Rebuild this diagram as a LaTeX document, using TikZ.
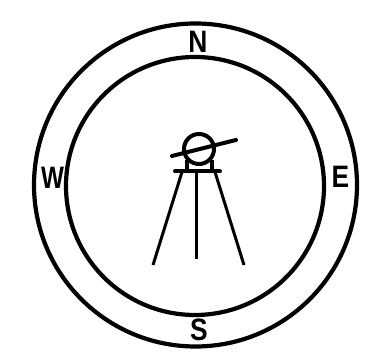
\documentclass[tikz,border=0pt]{standalone}
\usepackage{fontspec}
\setmainfont{Liberation Sans}
\begin{document}
\begin{tikzpicture}[
    x=1pt, y=-1pt,
    ring/.style={line width=4.2pt},
    rod/.style={line width=3pt},
    bar/.style={line width=4pt, line cap=round},
    letter/.style={font=\fontsize{31}{31}\selectfont\bfseries, inner sep=0pt, xscale=0.85, transform shape}
]
    \useasboundingbox (0,0) rectangle (368,363);

    % Rings
    \draw[ring] (195.5,185) circle (161.5);
    \draw[ring] (195,186) circle (129);

    % Compass letters
    \node[letter] (north) at (198,42) {N};
    \node[letter] (south) at (199,330) {S};
    \node[letter] (east) at (340.5,176.5) {E};
    \node[letter, xscale=0.92] (west) at (52.5,178) {W};

    % Instrument head
    \draw[line width=4pt] (199,149) circle (15);
    \draw[bar] (172,156) -- (236,140);
    \draw[rod, line width=3.6pt] (187,160) -- (187,172);
    \draw[rod, line width=3.6pt] (212,160) -- (212,172);
    \draw[bar] (175,171.5) -- (220,171.5);

    % Legs
    \draw[rod] (182,172) -- (153,265);
    \draw[rod] (197,172) -- (197,259);
    \draw[rod] (215,172) -- (244,265);
\end{tikzpicture}
\end{document}
